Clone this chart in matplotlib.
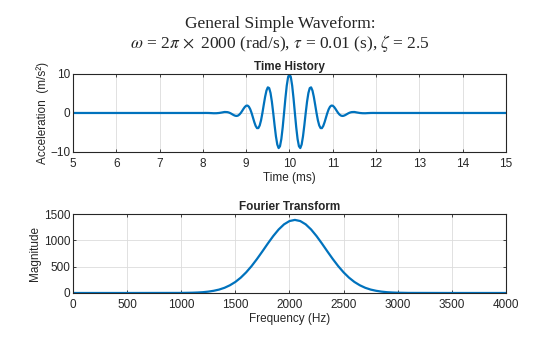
import numpy as np
import matplotlib
matplotlib.use('Agg')
import matplotlib.pyplot as plt

# time history: sample grid in ms
time_ms = ([5.0]
           + list(np.arange(8.0, 8.5, 0.0625))
           + list(np.arange(8.5, 11.5 + 1e-9, 0.03125))
           + list(np.arange(11.5625, 12.0 + 1e-9, 0.0625))
           + [15.0])

# acceleration (m/s^2)
accel = ([0.0]
         + [0.0, 0.01, 0.0, -0.03, -0.07, -0.06, 0.0, 0.12]
         + [0.25, 0.24, 0.22, 0.14, 0.0, -0.18, -0.39, -0.58, -0.72, -0.76,
            -0.66, -0.40, 0.0, 0.51, 1.06, 1.54, 1.86, 1.90, 1.61, 0.96,
            0.0, -1.16, -2.33, -3.31, -3.88, -3.87, -3.19, -1.86, 0.0, 2.12,
            4.15, 5.75, 6.57, 6.38, 5.12, 2.90, 0.0, -3.14, -6.00, -8.09,
            -9.00, -8.53, -6.67, -3.68, 0.0, 3.77, 7.02, 9.22,
            10.0,
            9.22, 7.02, 3.77, 0.0, -3.68, -6.67, -8.53, -9.00, -8.09, -6.00,
            -3.14, 0.0, 2.90, 5.12, 6.38, 6.57, 5.75, 4.15, 2.12, 0.0,
            -1.86, -3.19, -3.87, -3.88, -3.31, -2.33, -1.16, 0.0, 0.96, 1.61,
            1.90, 1.86, 1.54, 1.06, 0.51, 0.0, -0.40, -0.66, -0.76, -0.72,
            -0.58, -0.39, -0.18, 0.0, 0.14, 0.22, 0.24, 0.25]
         + [0.12, 0.0, -0.06, -0.07, -0.03, 0.0, 0.01, 0.0]
         + [0.0])

# fourier magnitude
freq_hz = [0, 500, 1000, 1100, 1150, 1200, 1250, 1300, 1350, 1400, 1450,
           1500, 1550, 1600, 1650, 1700, 1750, 1800, 1850, 1900, 1950, 2000,
           2050, 2100, 2150, 2200, 2250, 2300, 2350, 2400, 2450, 2500, 2550,
           2600, 2650, 2700, 2750, 2800, 2850, 2900, 2950, 3000, 3100, 3500, 4000]
magnitude = [0, 0, 1.4, 5, 9, 15, 26, 42, 65, 99, 147,
             210, 292, 393, 512, 647, 792, 941, 1083, 1208, 1306, 1368,
             1390, 1368, 1306, 1208, 1083, 941, 792, 647, 512, 393, 292,
             210, 147, 99, 65, 42, 26, 15, 9, 5, 1.4, 0, 0]

assert len(time_ms) == len(accel), (len(time_ms), len(accel))
assert len(freq_hz) == len(magnitude)

plt.rcParams['font.family'] = ['Liberation Sans', 'DejaVu Sans']
blue = '#0072BD'
txt = '#262626'

fig = plt.figure(figsize=(5.6, 3.37), dpi=100)
fig.text(0.5, 0.929, 'General Simple Waveform:', ha='center', va='center',
         fontsize=12.5, family='Liberation Serif', color=txt)
fig.text(0.5, 0.870,
         r'$\omega$ = 2$\pi\,\times$ 2000 (rad/s), $\tau$ = 0.01 (s), $\zeta\;$= 2.5',
         ha='center', va='center', fontsize=12.5, family='Liberation Serif',
         math_fontfamily='stix', color=txt)

ax1 = fig.add_axes([0.1304, 0.549, 0.773, 0.2315])
ax2 = fig.add_axes([0.1304, 0.1306, 0.773, 0.234])

ax1.plot(time_ms, accel, color=blue, lw=1.6)
ax1.set_xlim(5, 15)
ax1.set_ylim(-10, 10)
ax1.set_xticks(range(5, 16))
ax1.set_yticks([-10, 0, 10])
ax1.set_title('Time History', fontsize=8.5, fontweight='bold', pad=3, color=txt)
ax1.set_xlabel('Time (ms)', fontsize=8.5, labelpad=2, color=txt)
ax1.set_ylabel('Acceleration  (m/s²)', fontsize=8.5, labelpad=1, color=txt)

ax2.plot(freq_hz, magnitude, color=blue, lw=1.6)
ax2.set_xlim(0, 4000)
ax2.set_ylim(0, 1500)
ax2.set_xticks(range(0, 4001, 500))
ax2.set_yticks([0, 500, 1000, 1500])
ax2.set_title('Fourier Transform', fontsize=8.5, fontweight='bold', pad=3, color=txt)
ax2.set_xlabel('Frequency (Hz)', fontsize=8.5, labelpad=2, color=txt)
ax2.set_ylabel('Magnitude', fontsize=8.5, labelpad=2, color=txt)

for ax in (ax1, ax2):
    ax.grid(True, color='#dcdcdc', lw=0.6)
    ax.set_axisbelow(True)
    ax.tick_params(direction='in', length=2.5, width=0.6, labelsize=8.5,
                   colors=txt, top=True, right=True)
    ax.tick_params(axis='x', pad=4)
    ax.tick_params(axis='y', pad=2)
    for s in ax.spines.values():
        s.set_linewidth(0.8)
        s.set_color(txt)

fig.savefig('out.png', dpi=100)
